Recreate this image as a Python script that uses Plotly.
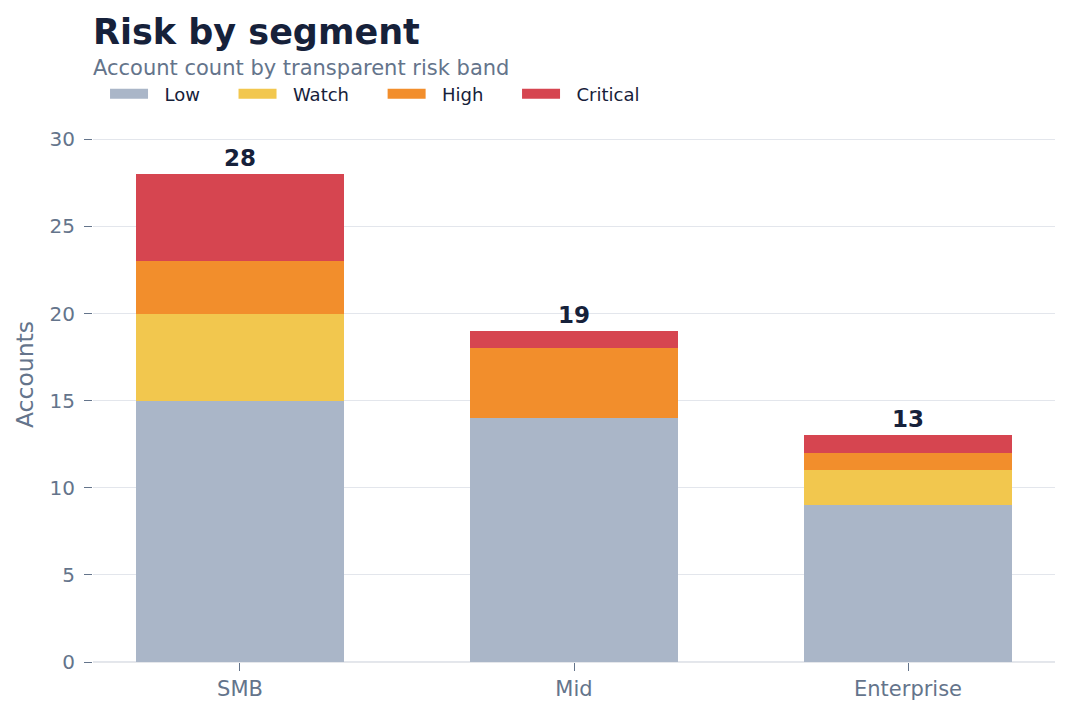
import plotly.graph_objects as go

segments = ["SMB", "Mid", "Enterprise"]
bands = ["Low", "Watch", "High", "Critical"]
low = [15, 14, 9]
watch = [5, 0, 2]
high = [3, 4, 1]
critical = [5, 1, 1]
band_values = [low, watch, high, critical]
band_colors = ["#aab6c8", "#f2c74e", "#f28e2c", "#d64550"]

totals = [sum(v) for v in zip(*band_values)]

ink = "#16213a"
muted = "#64748b"
font = "DejaVu Sans"

W, H = 1055, 701
L, R, T, B = 85, 8, 79, 47
PH = H - T - B


def py(px):
    # page pixel (from top of figure) -> paper y
    return (H - B - px) / PH


fig = go.Figure()
for name, vals, col in zip(bands, band_values, band_colors):
    fig.add_trace(go.Bar(
        name=name, x=segments, y=vals,
        marker=dict(color=col, line=dict(width=0)),
        width=0.62, showlegend=False,
    ))
    # legend swatch as a wide bar
    fig.add_trace(go.Scatter(
        name="  " + name + "     ", x=[None], y=[None], mode="lines",
        line=dict(color=col, width=13), hoverinfo="skip",
    ))

for seg, tot in zip(segments, totals):
    fig.add_annotation(x=seg, y=tot, text=f"<b>{tot}</b>", showarrow=False,
                       yanchor="bottom", yshift=1,
                       font=dict(family=font, size=23, color=ink))

fig.update_layout(
    barmode="stack",
    width=W, height=H,
    paper_bgcolor="white", plot_bgcolor="white",
    font=dict(family=font, color=muted, size=19),
    margin=dict(l=L, r=R, t=T, b=B),
    title=dict(
        text="<b>Risk by segment</b>",
        x=L / W, xanchor="left", y=1 - 24 / H, yanchor="middle",
        font=dict(family=font, size=35, color=ink),
    ),
    legend=dict(orientation="h", x=0.0125, xanchor="left",
                y=py(86), yanchor="middle",
                font=dict(family=font, size=18, color=ink), traceorder="normal",
                itemwidth=38),
    xaxis=dict(range=[-0.44, 2.44], ticks="outside", ticklen=8, tickcolor=muted,
               tickfont=dict(size=21, color=muted), showline=True,
               linecolor="#e5e7eb", linewidth=1),
    yaxis=dict(range=[0, 33], tickvals=[0, 5, 10, 15, 20, 25, 30], ticks="outside",
               ticklen=8, tickcolor=muted, ticklabelstandoff=5,
               tickfont=dict(size=20, color=muted), gridcolor="#e3e6ec",
               zeroline=True, zerolinecolor="#e3e6ec", zerolinewidth=2,
               title=dict(text="Accounts", font=dict(size=23.5, color=muted), standoff=9)),
)
fig.add_annotation(text="Account count by transparent risk band", xref="paper", yref="paper",
                   x=0, xanchor="left", xshift=-2, y=py(60), yanchor="middle",
                   showarrow=False, font=dict(family=font, size=21, color=muted))

fig.write_html("out.html")
